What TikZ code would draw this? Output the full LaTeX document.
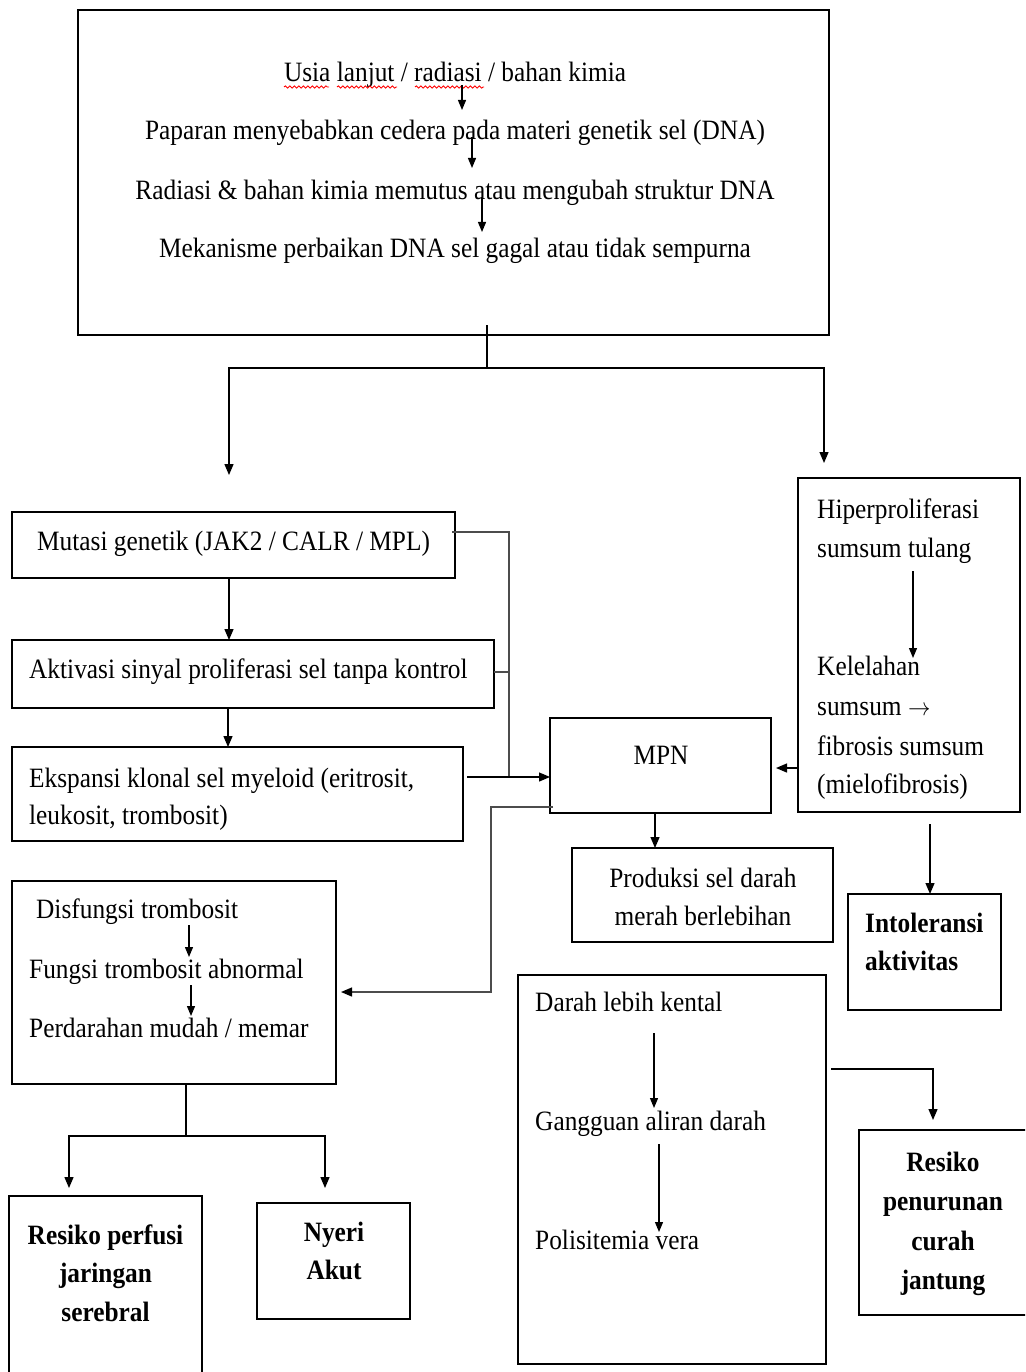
\documentclass[tikz,border=0pt]{standalone}
\usepackage{fontspec}
\setmainfont{Liberation Serif}[FakeStretch=0.905]
\usetikzlibrary{arrows.meta,decorations.pathmorphing}
\begin{document}
\begin{tikzpicture}[x=1pt,y=-1pt,
  box/.style={draw, line width=2.6pt, inner sep=0pt, outer sep=0pt, anchor=north west},
  tl/.style={inner sep=0pt, anchor=base west, font=\fontsize{28}{34}\selectfont},
  tc/.style={inner sep=0pt, anchor=base, font=\fontsize{28}{34}\selectfont},
  tb/.style={inner sep=0pt, anchor=base, font=\fontsize{28}{34}\selectfont\bfseries},
  tbl/.style={inner sep=0pt, anchor=base west, font=\fontsize{28}{34}\selectfont\bfseries},
  conn/.style={line width=1.3pt},
  gconn/.style={line width=1.3pt, black!70},
  arr/.style={line width=1.3pt, -{Triangle[length=11pt,width=9pt]}},
  garr/.style={line width=1.3pt, black!70, -{Triangle[length=11pt,width=9pt,color=black,fill=black]}},
  sarr/.style={line width=1.2pt, -{Triangle[length=10pt,width=8pt]}},
  squig/.style={red, line width=0.9pt, decorate, decoration={snake, amplitude=1.1pt, segment length=4.5pt}}
]
\useasboundingbox (0,0) rectangle (1025,1372);
\fill[white] (0,0) rectangle (1025,1372);
\clip (0,0) rectangle (1025,1372);

% boxes
\node[box, minimum width=751pt, minimum height=325pt] (top) at (78,10) {};
\node[box, minimum width=443pt, minimum height=66pt] (mut) at (12,512) {};
\node[box, minimum width=482pt, minimum height=68pt] (akt) at (12,640) {};
\node[box, minimum width=451pt, minimum height=94pt] (eks) at (12,747) {};
\node[box, minimum width=221pt, minimum height=95pt] (mpn) at (550,718) {};
\node[box, minimum width=222pt, minimum height=334pt] (hip) at (798,478) {};
\node[box, minimum width=261pt, minimum height=94pt] (pro) at (572,848) {};
\node[box, minimum width=153pt, minimum height=116pt] (int) at (848,894) {};
\node[box, minimum width=324pt, minimum height=203pt] (dis) at (12,881) {};
\node[box, minimum width=193pt, minimum height=220pt] (res1) at (9,1196) {};
\node[box, minimum width=153pt, minimum height=116pt] (nye) at (257,1203) {};
\node[box, minimum width=308pt, minimum height=389pt] (dar) at (518,975) {};
\node[box, minimum width=200pt, minimum height=185pt] (res2) at (859,1130) {};

% texts: top box
\node[tc] (t1) at (455,82) {Usia lanjut / radiasi / bahan kimia};
\node[tc] (t2) at (455,140) {Paparan menyebabkan cedera pada materi genetik sel (DNA)};
\node[tc] (t3) at (455,200) {Radiasi \& bahan kimia memutus atau mengubah struktur DNA};
\node[tc] (t4) at (455,258) {Mekanisme perbaikan DNA sel gagal atau tidak sempurna};
\draw[squig] (284,87) -- (329,87);
\draw[squig] (337,87) -- (397,87);
\draw[squig] (415,87) -- (484,87);
\coordinate (a1s) at (462,85); \coordinate (a1e) at (462,110);
\coordinate (a2s) at (472,137); \coordinate (a2e) at (472,168);
\coordinate (a3s) at (482,197); \coordinate (a3e) at (482,232);
\draw[sarr] (a1s) -- (a1e);
\draw[sarr] (a2s) -- (a2e);
\draw[sarr] (a3s) -- (a3e);

% left column texts
\node[tl] (m1) at (37,550) {Mutasi genetik (JAK2 / CALR / MPL)};
\node[tl] (k1) at (29,678) {Aktivasi sinyal proliferasi sel tanpa kontrol};
\node[tl] (e1) at (29,787) {Ekspansi klonal sel myeloid (eritrosit,};
\node[tl] (e2) at (29,824) {leukosit, trombosit)};

\node[tc] (p0) at (661,764) {MPN};

\node[tl] (h1) at (817,518) {Hiperproliferasi};
\node[tl] (h2) at (817,557) {sumsum tulang};
\node[tl] (h3) at (817,675) {Kelelahan};
\node[tl] (h4) at (817,715) {sumsum \scalebox{0.9}[1]{$\rightarrow$}};
\node[tl] (h5) at (817,755) {fibrosis sumsum};
\node[tl] (h6) at (817,793) {(mielofibrosis)};
\coordinate (ha) at (913,571); \coordinate (hb) at (913,658);
\draw[sarr] (ha) -- (hb);

\node[tc] (r1) at (703,887) {Produksi sel darah};
\node[tc] (r2) at (703,925) {merah berlebihan};

\node[tbl] (i1) at (865,932) {Intoleransi};
\node[tbl] (i2) at (865,970) {aktivitas};

\node[tl] (d1) at (36,918) {Disfungsi trombosit};
\node[tl] (d2) at (29,978) {Fungsi trombosit abnormal};
\node[tl] (d3) at (29,1037) {Perdarahan mudah / memar};
\coordinate (da) at (189,925); \coordinate (db) at (189,957);
\coordinate (dc) at (191,985); \coordinate (dd) at (191,1016);
\draw[sarr] (da) -- (db);
\draw[sarr] (dc) -- (dd);

\node[tb] (s1) at (105.5,1244) {Resiko perfusi};
\node[tb] (s2) at (105.5,1282) {jaringan};
\node[tb] (s3) at (105.5,1321) {serebral};

\node[tb] (n1) at (334,1241) {Nyeri};
\node[tb] (n2) at (334,1279) {Akut};

\node[tl] (g1) at (535,1011) {Darah lebih kental};
\node[tl] (g2) at (535,1130) {Gangguan aliran darah};
\node[tl] (g3) at (535,1249) {Polisitemia vera};
\coordinate (ga) at (654,1033); \coordinate (gb) at (654,1108);
\coordinate (gc) at (659,1144); \coordinate (gd) at (659,1232);
\draw[sarr] (ga) -- (gb);
\draw[sarr] (gc) -- (gd);

\node[tb] (c1) at (943,1171) {Resiko};
\node[tb] (c2) at (943,1210) {penurunan};
\node[tb] (c3) at (943,1250) {curah};
\node[tb] (c4) at (943,1289) {jantung};

% connectors
\coordinate (split) at (487,368);
\coordinate (tipL) at (229,475);
\coordinate (tipR) at (824,463);
\draw[conn] ([xshift=33.5pt,yshift=10pt]top.south) -- (split);
\draw[arr] (split) -| (tipL);
\draw[arr] (split) -| (tipR);

\draw[arr] ([xshift=-4.5pt]mut.south) -- ([xshift=-24pt]akt.north);
\draw[arr] ([xshift=-25pt]akt.south) -- ([xshift=-9.5pt]eks.north);

\coordinate (jm) at (509,777);
\draw[gconn] ([xshift=-3pt,yshift=13pt]mut.east) -| (jm);
\coordinate (as) at ([yshift=2pt]akt.east);
\draw[gconn] (as) -- (as -| jm);
\draw[arr] ([xshift=4pt,yshift=17pt]eks.east) -- ([yshift=-11.5pt]mpn.west);

\draw[arr] ([yshift=-123pt]hip.west) -- ([xshift=5pt,yshift=-2.5pt]mpn.east);
\draw[arr] ([xshift=-5.5pt]mpn.south) -- ([xshift=-47.5pt]pro.north);
\draw[arr] ([xshift=21pt,yshift=-12pt]hip.south) -- ([xshift=5.5pt]int.north);

\coordinate (jd) at (491,807);
\draw[garr] ([xshift=3pt,yshift=-41.5pt]mpn.west) -- (jd) |- ([xshift=5pt,yshift=-9.5pt]dis.east);

\coordinate (jb) at (186,1136);
\draw[conn] ([xshift=12pt]dis.south) -- (jb);
\draw[arr] (jb) -| ([xshift=-36.5pt,yshift=8pt]res1.north);
\draw[arr] (jb) -| ([xshift=-8.5pt,yshift=15pt]nye.north);

\draw[arr] ([xshift=5pt,yshift=100.5pt]dar.east) -| ([xshift=-26pt,yshift=10pt]res2.north);
\end{tikzpicture}
\end{document}
